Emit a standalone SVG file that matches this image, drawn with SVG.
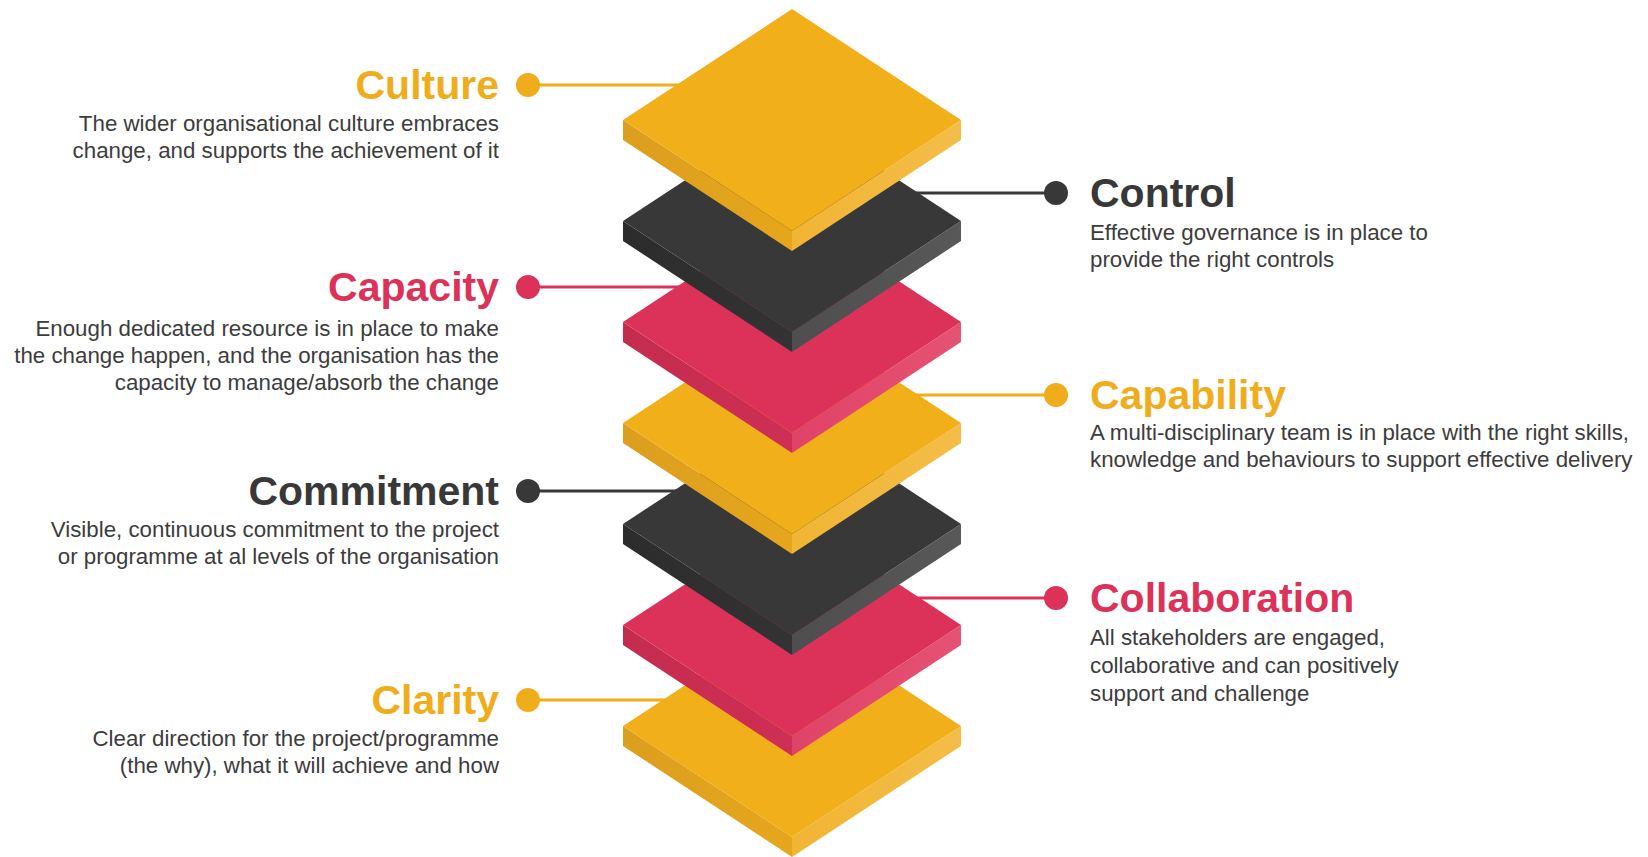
<svg xmlns="http://www.w3.org/2000/svg" width="1648" height="857" viewBox="0 0 1648 857">
  <defs>
    <linearGradient id="yLeft" x1="0" y1="0" x2="1" y2="0">
      <stop offset="0" stop-color="#DC9E1E"/>
      <stop offset="1" stop-color="#E6A61C"/>
    </linearGradient>
    <linearGradient id="yRight" x1="0" y1="0" x2="1" y2="0">
      <stop offset="0" stop-color="#F1B534"/>
      <stop offset="1" stop-color="#F4BD48"/>
    </linearGradient>
    <linearGradient id="rLeft" x1="0" y1="0" x2="1" y2="0">
      <stop offset="0" stop-color="#C42C4F"/>
      <stop offset="1" stop-color="#CF2F54"/>
    </linearGradient>
    <linearGradient id="rRight" x1="0" y1="0" x2="1" y2="0">
      <stop offset="0" stop-color="#E04368"/>
      <stop offset="1" stop-color="#E55274"/>
    </linearGradient>
    <linearGradient id="dLeft" x1="0" y1="0" x2="1" y2="0">
      <stop offset="0" stop-color="#2C2C2C"/>
      <stop offset="1" stop-color="#333333"/>
    </linearGradient>
    <linearGradient id="dRight" x1="0" y1="0" x2="1" y2="0">
      <stop offset="0" stop-color="#4E4E4E"/>
      <stop offset="1" stop-color="#585858"/>
    </linearGradient>
  </defs>
  <style>
    .title { font-family: "Liberation Sans", Arial, sans-serif; font-weight: bold; font-size: 41px; }
    .desc { font-family: "Liberation Sans", Arial, sans-serif; font-size: 22.3px; fill: #3C3C3C; }
    .left { text-anchor: end; }
    .yellow { fill: #F0AD1B; }
    .red { fill: #DC3259; }
    .dark { fill: #383838; }
    .ln { stroke-width: 3; fill: none; }
    .ln.yellow { stroke: #F0AD1B; fill: none; }
    .ln.red { stroke: #DC3259; fill: none; }
    .ln.dark { stroke: #383838; fill: none; }
    .y-top { fill: #F1AF1A; } .y-left { fill: url(#yLeft); } .y-right { fill: url(#yRight); }
    .r-top { fill: #DC3259; } .r-left { fill: url(#rLeft); } .r-right { fill: url(#rRight); }
    .d-top { fill: #383838; } .d-left { fill: url(#dLeft); } .d-right { fill: url(#dRight); }
  </style>

  <rect width="1648" height="857" fill="#FFFFFF"/>

  <!-- leader lines and end dots (drawn beneath the stack) -->
  <g id="connectors">
    <line class="ln yellow" x1="528" y1="85" x2="710" y2="85"/>
    <circle class="yellow" cx="528" cy="85" r="12"/>
    <line class="ln dark" x1="1056" y1="193" x2="880" y2="193"/>
    <circle class="dark" cx="1056" cy="193" r="12"/>
    <line class="ln red" x1="528" y1="287" x2="710" y2="287"/>
    <circle class="red" cx="528" cy="287" r="12"/>
    <line class="ln yellow" x1="1056" y1="395" x2="880" y2="395"/>
    <circle class="yellow" cx="1056" cy="395" r="12"/>
    <line class="ln dark" x1="528" y1="491" x2="710" y2="491"/>
    <circle class="dark" cx="528" cy="491" r="12"/>
    <line class="ln red" x1="1056" y1="598" x2="880" y2="598"/>
    <circle class="red" cx="1056" cy="598" r="12"/>
    <line class="ln yellow" x1="528" y1="700" x2="710" y2="700"/>
    <circle class="yellow" cx="528" cy="700" r="12"/>
  </g>

  <!-- isometric slabs, lowest first so upper slabs overlap -->
  <g id="slab-clarity" transform="translate(792,615)">
    <polygon class="y-left" points="-169,111 0,222 0,242 -169,131"/>
    <polygon class="y-right" points="169,111 0,222 0,242 169,131"/>
    <polygon class="y-top" points="0,0 169,111 0,222 -169,111"/>
  </g>
  <g id="slab-collaboration" transform="translate(792,514)">
    <polygon class="r-left" points="-169,111 0,222 0,242 -169,131"/>
    <polygon class="r-right" points="169,111 0,222 0,242 169,131"/>
    <polygon class="r-top" points="0,0 169,111 0,222 -169,111"/>
  </g>
  <g id="slab-commitment" transform="translate(792,413)">
    <polygon class="d-left" points="-169,111 0,222 0,242 -169,131"/>
    <polygon class="d-right" points="169,111 0,222 0,242 169,131"/>
    <polygon class="d-top" points="0,0 169,111 0,222 -169,111"/>
  </g>
  <g id="slab-capability" transform="translate(792,312)">
    <polygon class="y-left" points="-169,111 0,222 0,242 -169,131"/>
    <polygon class="y-right" points="169,111 0,222 0,242 169,131"/>
    <polygon class="y-top" points="0,0 169,111 0,222 -169,111"/>
  </g>
  <g id="slab-capacity" transform="translate(792,211)">
    <polygon class="r-left" points="-169,111 0,222 0,242 -169,131"/>
    <polygon class="r-right" points="169,111 0,222 0,242 169,131"/>
    <polygon class="r-top" points="0,0 169,111 0,222 -169,111"/>
  </g>
  <g id="slab-control" transform="translate(792,110)">
    <polygon class="d-left" points="-169,111 0,222 0,242 -169,131"/>
    <polygon class="d-right" points="169,111 0,222 0,242 169,131"/>
    <polygon class="d-top" points="0,0 169,111 0,222 -169,111"/>
  </g>
  <g id="slab-culture" transform="translate(792,9)">
    <polygon class="y-left" points="-169,111 0,222 0,242 -169,131"/>
    <polygon class="y-right" points="169,111 0,222 0,242 169,131"/>
    <polygon class="y-top" points="0,0 169,111 0,222 -169,111"/>
  </g>

  <!-- labels -->
  <g id="label-culture">
    <text class="title yellow left" x="499" y="99">Culture</text>
    <text class="desc left" x="499" y="131">The wider organisational culture embraces</text>
    <text class="desc left" x="499" y="158">change, and supports the achievement of it</text>
  </g>
  <g id="label-control">
    <text class="title dark" x="1090" y="207">Control</text>
    <text class="desc" x="1090" y="240">Effective governance is in place to</text>
    <text class="desc" x="1090" y="267">provide the right controls</text>
  </g>
  <g id="label-capacity">
    <text class="title red left" x="499" y="301">Capacity</text>
    <text class="desc left" x="499" y="336">Enough dedicated resource is in place to make</text>
    <text class="desc left" x="499" y="363">the change happen, and the organisation has the</text>
    <text class="desc left" x="499" y="390">capacity to manage/absorb the change</text>
  </g>
  <g id="label-capability">
    <text class="title yellow" x="1090" y="409">Capability</text>
    <text class="desc" x="1090" y="440">A multi-disciplinary team is in place with the right skills,</text>
    <text class="desc" x="1090" y="467">knowledge and behaviours to support effective delivery</text>
  </g>
  <g id="label-commitment">
    <text class="title dark left" x="499" y="505">Commitment</text>
    <text class="desc left" x="499" y="537">Visible, continuous commitment to the project</text>
    <text class="desc left" x="499" y="564">or programme at al levels of the organisation</text>
  </g>
  <g id="label-collaboration">
    <text class="title red" x="1090" y="612">Collaboration</text>
    <text class="desc" x="1090" y="645">All stakeholders are engaged,</text>
    <text class="desc" x="1090" y="673">collaborative and can positively</text>
    <text class="desc" x="1090" y="701">support and challenge</text>
  </g>
  <g id="label-clarity">
    <text class="title yellow left" x="499" y="714">Clarity</text>
    <text class="desc left" x="499" y="746">Clear direction for the project/programme</text>
    <text class="desc left" x="499" y="773">(the why), what it will achieve and how</text>
  </g>
</svg>
